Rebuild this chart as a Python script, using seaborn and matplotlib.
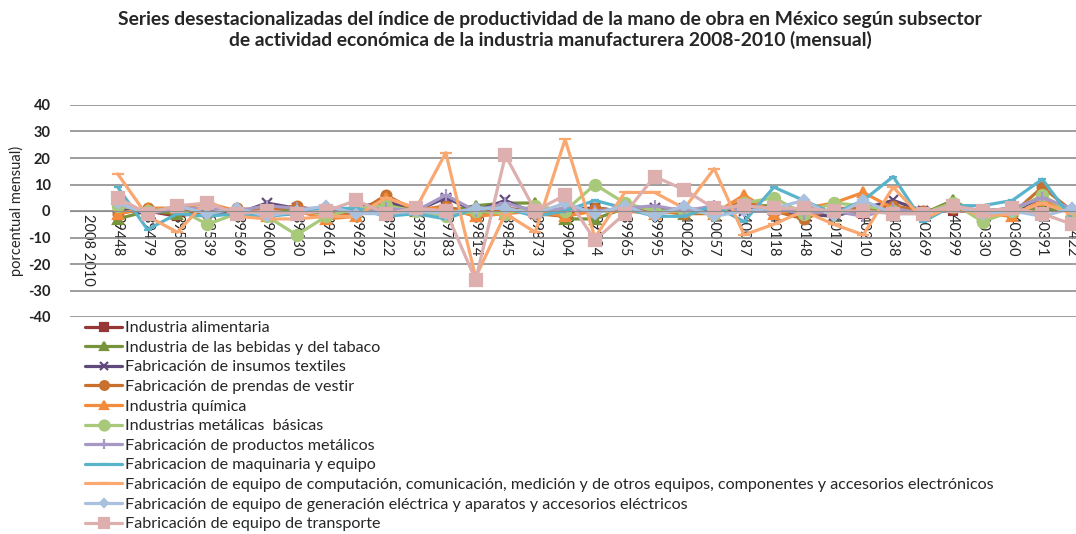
import numpy as np
import pandas as pd
import matplotlib
matplotlib.use("Agg")
import matplotlib.pyplot as plt
import seaborn as sns

# categories (Excel date serials as shown on the axis)
x_labels = ["2008 2010", "39448", "39479", "39508", "39539", "39569", "39600", "39630",
            "39661", "39692", "39722", "39753", "39783", "39814", "39845", "39873",
            "39904", "39934", "39965", "39995", "40026", "40057", "40087", "40118",
            "40148", "40179", "40210", "40238", "40269", "40299", "40330", "40360",
            "40391", "40422"]

series_names = [
    "Industria alimentaria",
    "Industria de las bebidas y del tabaco",
    "Fabricación de insumos textiles",
    "Fabricación de prendas de vestir",
    "Industria química",
    "Industrias metálicas  básicas",
    "Fabricación de productos metálicos",
    "Fabricacion de maquinaria y equipo",
    "Fabricación de equipo de computación, comunicación, medición y de otros equipos, componentes y accesorios electrónicos",
    "Fabricación de equipo de generación eléctrica y aparatos y accesorios eléctricos",
    "Fabricación de equipo de transporte",
]

alimentaria = [1, 0, -2, 0, 0, 0, 0, 0, 0, 1, 0, 1, 0, 1, 0, -1, 1, 0, 0, 1, 0, 1, 0, 0, 0, -1, 1, 0, 0, 0, 1, 1, 0]
bebidas = [-3, 0, -1, 1, -1, 1, 0, -1, 0, 3, 0, 0, 2, 3, 3, -3, -3, 1, 0, -1, 0, 2, 2, -1, -2, 1, 0, -1, 4, -2, 0, 1, 0]
textiles = [1, -1, 1, 0, -1, 3, 1, 0, 1, 4, 0, 5, 0, 4, -1, 1, 1, 0, 1, 0, 1, 0, 0, -1, -2, 1, 4, 0, 1, -1, 0, 5, 0]
prendas = [-1, 1, 1, -1, 1, 0, 2, -1, -1, 6, 0, 2, -2, 1, -1, -2, 1, 0, 0, -1, -1, 4, 0, -3, 1, 1, 2, 0, 1, -1, -1, 9, 0]
quimica = [-1, 1, 1, 3, 0, -2, 0, -3, -2, 5, 1, 1, -2, -1, 0, -2, 0, 0, -1, 0, -1, 6, -1, 1, 3, 7, 1, -1, 3, -1, -2, 4, 0]
metalicas_basicas = [2, 0, 1, -5, -1, -2, -9, -2, 1, 2, 0, -2, 0, -1, 2, 0, 10, 3, 0, 0, -1, 3, 5, -1, 3, 2, 0, -1, 3, -4, 0, 6, -1]
productos_metalicos = [3, -1, 1, 1, 0, 2, 1, 1, 0, 1, 0, 6, 0, 3, 0, 1, 0, 1, 2, 0, 2, 0, 1, -1, 0, -2, 1, -1, 2, 0, 1, 5, 1]
maquinaria = [9, -7, -1, -2, -1, -2, -1, 1, 1, -2, -1, -3, 1, 1, -2, 0, 4, 1, -2, -2, 2, -4, 9, 4, -1, 4, 13, -4, 2, 2, 4, 12, -3]
computacion = [14, -2, -8, 4, -2, -3, -3, -2, -2, 5, 1, 22, -25, -1, -8, 27, -10, 7, 7, 1, 16, -9, -5, 0, -5, -9, 9, -3, 2, -2, -1, 3, -1]
generacion = [3, -1, 2, -1, 1, -2, 0, 2, -1, -1, 0, -1, 1, 1, -1, 3, -1, 2, -2, 2, -2, 0, 1, 4, -2, 4, -1, -1, 2, -1, 0, -2, 1]
transporte = [5, -1, 2, 3, -1, 0, -1, 0, 4, -1, 1, 0, -26, 21, 0, 6, -11, -1, 13, 8, 1, 2, 1, 1, 0, 0, -1, -1, 2, 0, 1, -1, -5]

all_values = [alimentaria, bebidas, textiles, prendas, quimica, metalicas_basicas,
              productos_metalicos, maquinaria, computacion, generacion, transporte]

colors = ["#953735", "#77933C", "#604A7B", "#C8702E", "#F38B3C", "#A9C97A",
          "#A898C4", "#58B3CB", "#F9A872", "#A9C0DE", "#DDAFAE"]
markers = ["s", "^", "x", "o", "^", "o", "+", "_", "_", "D", "s"]
msizes = [6, 7, 7, 7, 7, 8, 8, 6, 8, 5, 8]

y_ticks = [-40, -30, -20, -10, 0, 10, 20, 30, 40]


def main():
    sns.set_style("white")
    plt.rcParams["font.family"] = ["Lato", "DejaVu Sans"]

    fig = plt.figure(figsize=(10.76, 5.34), dpi=100)
    W, H = 1076, 534
    ax = fig.add_axes([70 / W, (H - 317) / H, (W - 70) / W, (317 - 105) / H])

    pos = np.arange(len(x_labels))
    for name, vals, c, m, ms in zip(series_names, all_values, colors, markers, msizes):
        df = pd.DataFrame({"x": pos[1:], "y": vals})
        sns.lineplot(data=df, x="x", y="y", ax=ax, color=c, lw=2.3,
                     marker=m, markersize=ms, markeredgecolor=c,
                     markeredgewidth=1.6, label=name)

    # spine position first: it resets the ticks
    for s in ["left", "right", "top"]:
        ax.spines[s].set_visible(False)
    ax.spines["bottom"].set_position(("data", 0))
    ax.spines["bottom"].set_color("#8C8C8C")

    ax.set_ylim(-40, 40)
    ax.set_xlim(-0.6, 33.13)
    ax.set_yticks(y_ticks)
    ax.set_yticklabels([str(v) for v in y_ticks], fontweight="bold", fontsize=10.5, color="#222222")
    ax.set_xticks(pos)
    ax.set_xticklabels(x_labels, rotation=-90, fontsize=10.5, va="top", ha="center")
    ax.tick_params(axis="x", length=0, pad=2)
    ax.tick_params(axis="y", length=0, pad=14)
    ax.yaxis.grid(True, color="#8C8C8C", lw=1.2)
    ax.xaxis.grid(False)
    ax.set_xlabel("")
    ax.set_ylabel("porcentual mensual)", fontsize=10.5)
    ax.yaxis.set_label_coords(-0.046, 0.5)

    handles, labels = ax.get_legend_handles_labels()
    ax.legend(handles, labels, loc="upper left", bbox_to_anchor=(85 / W, 1 - 321 / H),
              bbox_transform=fig.transFigure, frameon=False, fontsize=11.6,
              labelspacing=0.33, handlelength=2.3, handletextpad=0.2,
              borderpad=0, borderaxespad=0, markerscale=0.9)

    fig.text(550 / W, 1 - 30 / H,
             "Series desestacionalizadas del índice de productividad de la mano de obra en México según subsector\n"
             "de actividad económica de la industria manufacturera 2008-2010 (mensual)",
             ha="center", va="center", fontsize=13.9, fontweight="bold", linespacing=1.25)

    fig.savefig("out.png", dpi=100)


if __name__ == "__main__":
    main()
